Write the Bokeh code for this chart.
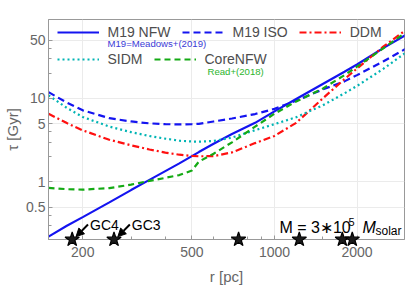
from bokeh.plotting import figure
from bokeh.models import (Range1d, FixedTicker, Legend, LegendItem, Label, Arrow,
                          NormalHead, CustomJSTickFormatter)
from bokeh.embed import file_html
from bokeh.resources import INLINE

# ---------------- data ----------------
r_pc = [150, 175, 200, 250, 300, 350, 400, 450, 500, 530, 600, 700, 850,
        1000, 1200, 1500, 1800, 2000, 2500, 3000]
tau_m19_nfw = [0.222, 0.30, 0.38, 0.57, 0.80, 1.06, 1.35, 1.67, 2.04, 2.28, 2.87,
               3.76, 5.1, 7.0, 9.86, 14.9, 20.9, 25.5, 40.3, 57]
tau_m19_iso = [11.9, 8.9, 7.2, 5.8, 5.3, 5.03, 4.92, 4.88, 4.92, 4.96, 5.3,
               5.75, 6.5, 7.5, 9.4, 12.8, 16.0, 19.0, 27.9, 39]
tau_ddm = [6.56, 5.07, 4.15, 3.2, 2.75, 2.45, 2.25, 2.12, 2.05, 2.03, 2.04,
           2.26, 2.92, 3.56, 5.1, 10.0, 17.0, 22.8, 41.9, 65]
tau_sidm = [10.9, 7.7, 6.0, 4.6, 3.95, 3.55, 3.3, 3.12, 3.05, 3.04, 3.1,
            3.4, 4.17, 4.92, 5.96, 8.26, 11.5, 14.1, 22.7, 35]
tau_corenfw = [0.85, 0.82, 0.81, 0.845, 0.93, 1.03, 1.12, 1.21, 1.37, 1.75, 2.18,
               2.98, 4.6, 6.56, 9.2, 13.1, 19.0, 24.0, 40.0, 61]

gc_r = [183, 260, 740, 1232, 1768, 1922]
gc_names = ["GC4", "GC3"]

x_ticks = [200, 500, 1000, 2000]
x_minor = [300, 400, 600, 700, 800, 900, 1500, 3000]
y_ticks = [0.5, 1, 5, 10, 50]
y_minor = [0.3, 0.4, 2, 3, 4, 20, 30, 40]

X_MIN, X_MAX = 150, 2980
Y_MIN, Y_MAX = 0.205, 88

FONT = "Liberation Sans"
GRAY = "#999999"

p = figure(x_axis_type="log", y_axis_type="log",
           x_range=Range1d(X_MIN, X_MAX), y_range=Range1d(Y_MIN, Y_MAX),
           frame_width=356, frame_height=220,
           min_border_left=48, min_border_right=3, min_border_top=19, min_border_bottom=66,
           output_backend="svg", toolbar_location=None,
           background_fill_color="white", border_fill_color="white")

p.outline_line_color = GRAY
p.outline_line_width = 1

fmt = CustomJSTickFormatter(code="return tick.toString()")
p.xaxis.ticker = FixedTicker(ticks=x_ticks, minor_ticks=x_minor)
p.yaxis.ticker = FixedTicker(ticks=y_ticks, minor_ticks=y_minor)
for ax in (p.xaxis, p.yaxis):
    ax.formatter = fmt
    ax.axis_line_color = GRAY
    ax.major_tick_line_color = GRAY
    ax.minor_tick_line_color = GRAY
    ax.major_tick_in = 4
    ax.major_tick_out = 0
    ax.minor_tick_in = 3
    ax.minor_tick_out = 0
    ax.major_label_text_font = FONT
    ax.major_label_text_font_size = "14px"
    ax.major_label_text_color = "#666666"
    ax.axis_label_text_font = FONT
    ax.axis_label_text_font_size = "15px"
    ax.axis_label_text_font_style = "normal"
    ax.axis_label_text_color = "#666666"

p.xaxis.axis_label = "r [pc]"
p.yaxis.axis_label = "\u03c4 [Gyr]"
p.xaxis.major_label_standoff = 7
p.xaxis.axis_label_standoff = 8
p.yaxis.major_label_standoff = 3
p.yaxis.axis_label_standoff = 2

p.xgrid.grid_line_color = "#ebebeb"
p.ygrid.grid_line_color = "#ebebeb"

# ---------------- curves ----------------
r_nfw = p.line(r_pc, tau_m19_nfw, line_color="#1414f0", line_width=2.2)
r_iso = p.line(r_pc, tau_m19_iso, line_color="#1414f0", line_width=2.2, line_dash="7 4")
r_ddm = p.line(r_pc, tau_ddm, line_color="#ff1010", line_width=2.2, line_dash="7 3 2 3")
r_sidm = p.line(r_pc, tau_sidm, line_color="#00b4b4", line_width=2.2, line_dash="2 3")
r_core = p.line(r_pc, tau_corenfw, line_color="#14aa14", line_width=2.2, line_dash="6 4")

# ---------------- legend (two rows) ----------------
leg1 = Legend(items=[LegendItem(label="M19 NFW", renderers=[r_nfw]),
                     LegendItem(label="M19 ISO", renderers=[r_iso]),
                     LegendItem(label="DDM", renderers=[r_ddm])],
              location=(8.5, 199))
leg2 = Legend(items=[LegendItem(label="SIDM", renderers=[r_sidm]),
                     LegendItem(label="CoreNFW", renderers=[r_core])],
              location=(8.5, 172))
for leg in (leg1, leg2):
    leg.orientation = "horizontal"
    leg.label_text_font = FONT
    leg.label_text_font_size = "14px"
    leg.label_text_color = "#4d4d4d"
    leg.glyph_width = 42
    leg.glyph_height = 16
    leg.label_height = 16
    leg.label_standoff = 9
    leg.spacing = 11
    leg.padding = 0
    leg.margin = 0
    leg.background_fill_alpha = 0
    leg.border_line_alpha = 0
    p.add_layout(leg)

p.add_layout(Label(x=59, y=196, x_units="screen", y_units="screen",
                   text="M19=Meadows+(2019)", text_font=FONT, text_font_size="9.6px",
                   text_color="#3a3ad6", text_baseline="middle"))
p.add_layout(Label(x=159, y=168, x_units="screen", y_units="screen",
                   text="Read+(2018)", text_font=FONT, text_font_size="9.6px",
                   text_color="#2cb52c", text_baseline="middle"))

# ---------------- globular clusters ----------------
p.scatter(gc_r, [Y_MIN] * len(gc_r), marker="star", size=15,
          fill_color="#1a1a1a", line_color="black", line_width=1.2, level="overlay")
for name, rr in zip(gc_names, gc_r):
    p.add_layout(Arrow(end=NormalHead(size=8, fill_color="black", line_color="black"),
                       x_start=rr * 1.142, y_start=Y_MIN * 1.51,
                       x_end=rr * 1.033, y_end=Y_MIN * 1.083,
                       line_color="black", line_width=2))
    p.add_layout(Label(x=rr * 1.142, y=Y_MIN * 1.51, x_offset=2, text=name,
                       text_font=FONT, text_font_size="14px", text_color="black",
                       text_baseline="middle"))

# ---------------- mass annotation ----------------
p.add_layout(Label(x=231, y=12, x_units="screen", y_units="screen", text="M = 3\u221710",
                   text_font=FONT, text_font_size="16px", text_color="black",
                   text_baseline="alphabetic"))
p.add_layout(Label(x=300, y=18, x_units="screen", y_units="screen", text="5",
                   text_font=FONT, text_font_size="11px", text_color="black",
                   text_baseline="alphabetic"))
p.add_layout(Label(x=314, y=12, x_units="screen", y_units="screen", text="M",
                   text_font=FONT, text_font_size="16px", text_font_style="italic",
                   text_color="black", text_baseline="alphabetic"))
p.add_layout(Label(x=327, y=9, x_units="screen", y_units="screen", text="solar",
                   text_font=FONT, text_font_size="12px", text_color="black",
                   text_baseline="alphabetic"))

open("out.html", "w").write(file_html(p, INLINE))
